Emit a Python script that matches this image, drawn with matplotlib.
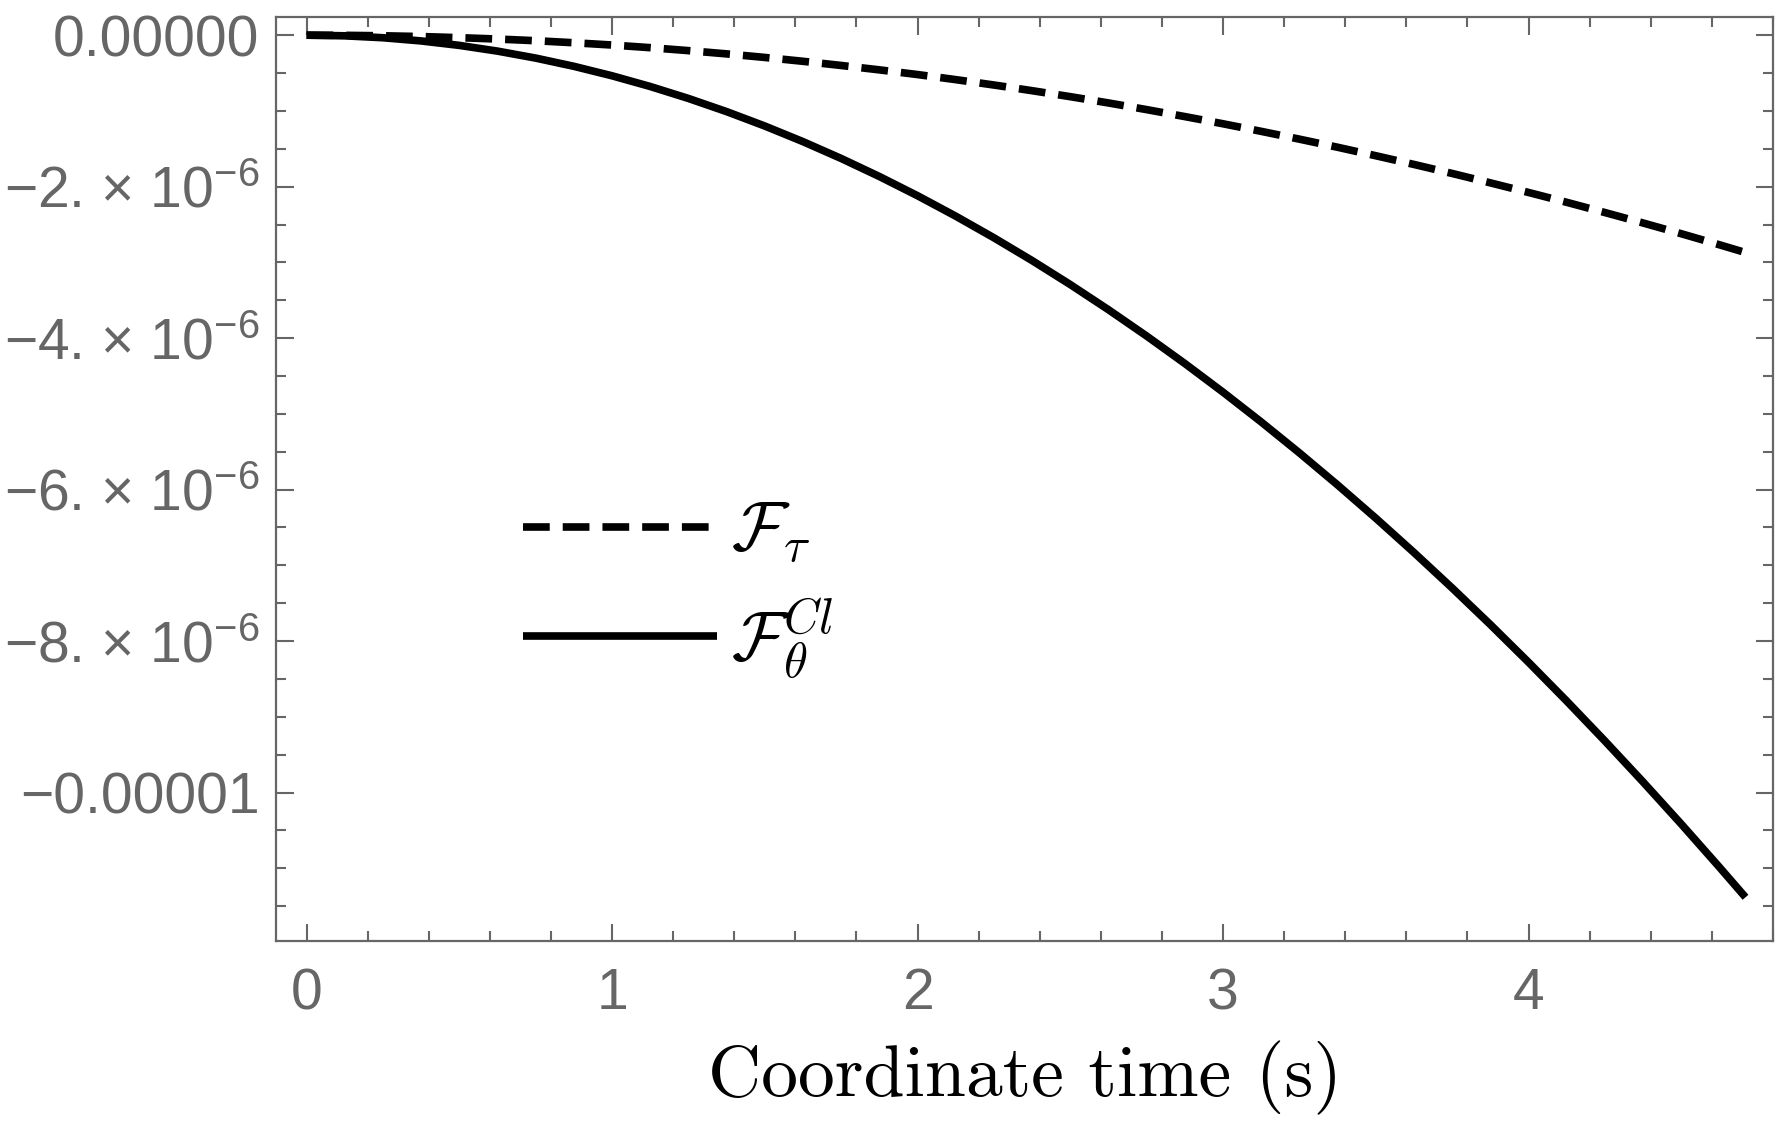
import matplotlib
matplotlib.use("Agg")
import matplotlib.pyplot as plt
from matplotlib.ticker import FixedLocator, FixedFormatter, MultipleLocator
from matplotlib.font_manager import FontProperties

# ---- data ----
t = [0.0, 0.125, 0.25, 0.375, 0.5, 0.625, 0.75, 0.875, 1.0, 1.125, 1.25, 1.375,
     1.5, 1.625, 1.75, 1.875, 2.0, 2.125, 2.25, 2.375, 2.5, 2.625, 2.75, 2.875,
     3.0, 3.125, 3.25, 3.375, 3.5, 3.625, 3.75, 3.875, 4.0, 4.125, 4.25, 4.375,
     4.5, 4.625, 4.71]
f_tau = [0.0, -0.002e-6, -0.008e-6, -0.018e-6, -0.033e-6, -0.051e-6, -0.073e-6,
         -0.10e-6, -0.13e-6, -0.165e-6, -0.204e-6, -0.247e-6, -0.294e-6, -0.345e-6,
         -0.40e-6, -0.458e-6, -0.52e-6, -0.587e-6, -0.658e-6, -0.733e-6, -0.812e-6,
         -0.895e-6, -0.983e-6, -1.075e-6, -1.17e-6, -1.27e-6, -1.373e-6, -1.48e-6,
         -1.592e-6, -1.707e-6, -1.826e-6, -1.95e-6, -2.077e-6, -2.207e-6, -2.342e-6,
         -2.48e-6, -2.622e-6, -2.768e-6, -2.87e-6]
f_theta_cl = [0.0, -0.0085e-6, -0.0338e-6, -0.076e-6, -0.1348e-6, -0.2104e-6,
              -0.3025e-6, -0.4112e-6, -0.5363e-6, -0.6777e-6, -0.8355e-6, -1.0094e-6,
              -1.1996e-6, -1.4058e-6, -1.628e-6, -1.8661e-6, -2.1201e-6, -2.3899e-6,
              -2.6753e-6, -2.9764e-6, -3.2931e-6, -3.6253e-6, -3.9729e-6, -4.3358e-6,
              -4.714e-6, -5.1074e-6, -5.516e-6, -5.9395e-6, -6.3781e-6, -6.8316e-6,
              -7.2999e-6, -7.7829e-6, -8.2806e-6, -8.793e-6, -9.3199e-6, -9.8613e-6,
              -10.417e-6, -10.9871e-6, -11.3829e-6]

y_ticks = [0.0, -2e-6, -4e-6, -6e-6, -8e-6, -1e-5]
y_tick_labels = ["0.00000", "\u22122. \u00d7 $10^{-6}$", "\u22124. \u00d7 $10^{-6}$",
                 "\u22126. \u00d7 $10^{-6}$", "\u22128. \u00d7 $10^{-6}$", "\u22120.00001"]
x_ticks = [0, 1, 2, 3, 4]
x_tick_labels = ["0", "1", "2", "3", "4"]
series_labels = [r"$\mathcal{F}_{\tau}$", r"$\mathcal{F}_{\theta}^{Cl}$"]
x_label = "Coordinate time (s)"

# ---- style ----
plt.rcParams["mathtext.fontset"] = "custom"
plt.rcParams["mathtext.rm"] = "Liberation Sans"
plt.rcParams["mathtext.it"] = "Liberation Sans:italic"
plt.rcParams["mathtext.bf"] = "Liberation Sans:bold"
plt.rcParams["font.family"] = ["Liberation Sans", "DejaVu Sans"]

gray = "#666666"

fig = plt.figure(figsize=(17.82, 11.30), dpi=100)
ax = fig.add_axes([276 / 1782, 1 - 941 / 1130, (1773 - 276) / 1782, (941 - 17) / 1130])

ax.plot(t, f_tau, color="black", lw=5.5, linestyle=(0, (3.5, 1.7)),
        dash_capstyle="butt", label=series_labels[0])
ax.plot(t, f_theta_cl, color="black", lw=5.5, solid_capstyle="butt",
        solid_joinstyle="round", label=series_labels[1])

ax.set_xlim(-0.1, 4.80)
ax.set_ylim(-11.96e-6, 0.24e-6)

ax.xaxis.set_major_locator(FixedLocator(x_ticks))
ax.xaxis.set_major_formatter(FixedFormatter(x_tick_labels))
ax.xaxis.set_minor_locator(MultipleLocator(0.2))
ax.yaxis.set_major_locator(FixedLocator(y_ticks))
ax.yaxis.set_major_formatter(FixedFormatter(y_tick_labels))
ax.yaxis.set_minor_locator(MultipleLocator(0.5e-6))

for s in ax.spines.values():
    s.set_color(gray)
    s.set_linewidth(1.6)

ax.tick_params(which="both", direction="in", top=True, right=True,
               color=gray, width=1.5)
ax.tick_params(which="major", length=12.6)
ax.tick_params(which="minor", length=7.0)
ax.tick_params(axis="x", which="major", labelsize=41, labelcolor=gray, pad=19)
ax.tick_params(axis="y", which="major", labelsize=41, labelcolor=gray, pad=12)

ax.set_xlabel(x_label, fontfamily="cmr10", fontsize=53, color="black", labelpad=14)

leg_prop = FontProperties(family="cmr10", size=50, math_fontfamily="cm")
ax.legend(loc="upper left", bbox_to_anchor=(0.165, 0.476), frameon=False,
          prop=leg_prop, handlelength=2.8, handletextpad=0.2,
          labelspacing=0.43, borderpad=0, borderaxespad=0)

fig.savefig("out.png", dpi=100, facecolor="white")
